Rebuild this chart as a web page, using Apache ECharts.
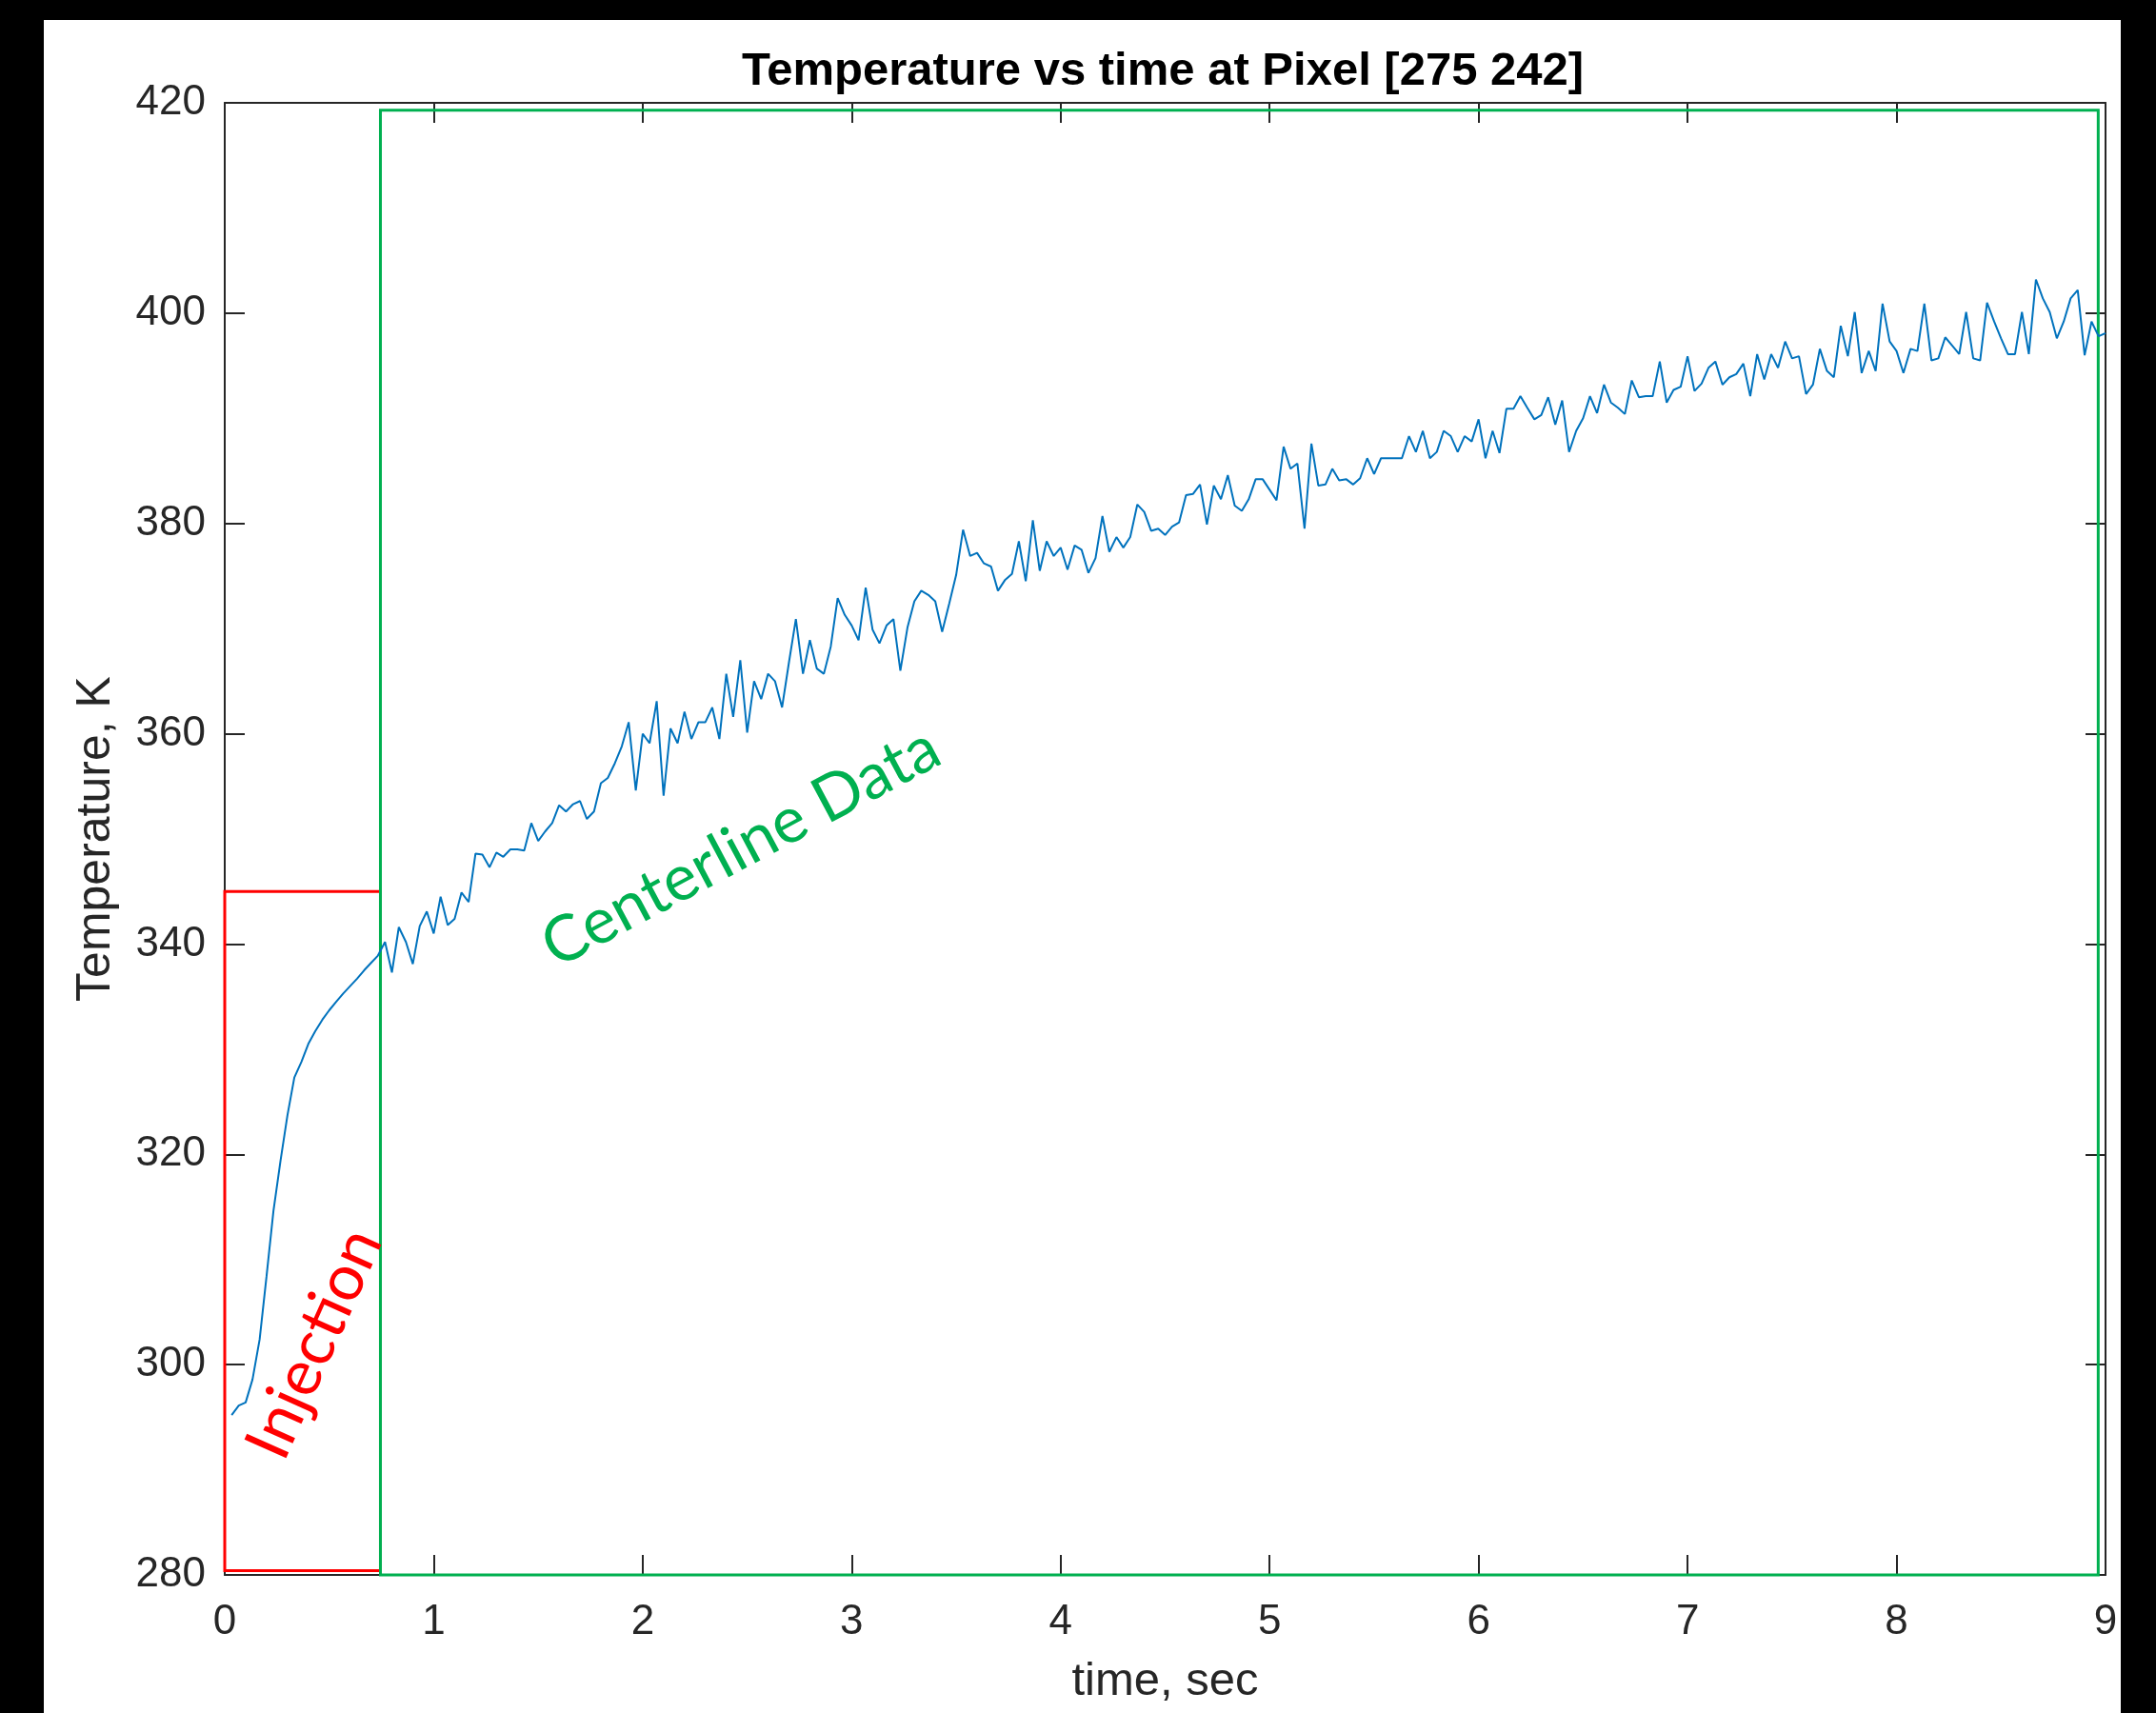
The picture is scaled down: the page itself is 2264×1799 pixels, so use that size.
<!DOCTYPE html>
<html>
<head>
<meta charset="utf-8">
<script src="https://cdn.jsdelivr.net/npm/echarts@6/dist/echarts.min.js"></script>
<style>
  html, body { margin: 0; padding: 0; background: #000; width: 2264px; height: 1799px; overflow: hidden; }
  #chart { position: absolute; left: 46px; top: 21px; width: 2181px; height: 1778px; background: #fff; }
</style>
</head>
<body>
<div id="chart"></div>
<script>
// time (s) and temperature (K)
var timeSec = [
  0.033,0.067,0.1,0.133,0.167,0.2,0.233,0.267,0.3,0.333,
  0.367,0.4,0.433,0.467,0.5,0.533,0.567,0.6,0.633,0.667,
  0.7,0.733,0.767,0.8,0.833,0.867,0.9,0.933,0.967,1,
  1.033,1.067,1.1,1.133,1.167,1.2,1.233,1.267,1.3,1.333,
  1.367,1.4,1.433,1.467,1.5,1.533,1.567,1.6,1.633,1.667,
  1.7,1.733,1.767,1.8,1.833,1.867,1.9,1.933,1.967,2,
  2.033,2.067,2.1,2.133,2.167,2.2,2.233,2.267,2.3,2.333,
  2.367,2.4,2.433,2.467,2.5,2.533,2.567,2.6,2.633,2.667,
  2.7,2.733,2.767,2.8,2.833,2.867,2.9,2.933,2.967,3,
  3.033,3.067,3.1,3.133,3.167,3.2,3.233,3.267,3.3,3.333,
  3.367,3.4,3.433,3.467,3.5,3.533,3.567,3.6,3.633,3.667,
  3.7,3.733,3.767,3.8,3.833,3.867,3.9,3.933,3.967,4,
  4.033,4.067,4.1,4.133,4.167,4.2,4.233,4.267,4.3,4.333,
  4.367,4.4,4.433,4.467,4.5,4.533,4.567,4.6,4.633,4.667,
  4.7,4.733,4.767,4.8,4.833,4.867,4.9,4.933,4.967,5,
  5.033,5.067,5.1,5.133,5.167,5.2,5.233,5.267,5.3,5.333,
  5.367,5.4,5.433,5.467,5.5,5.533,5.567,5.6,5.633,5.667,
  5.7,5.733,5.767,5.8,5.833,5.867,5.9,5.933,5.967,6,
  6.033,6.067,6.1,6.133,6.167,6.2,6.233,6.267,6.3,6.333,
  6.367,6.4,6.433,6.467,6.5,6.533,6.567,6.6,6.633,6.667,
  6.7,6.733,6.767,6.8,6.833,6.867,6.9,6.933,6.967,7,
  7.033,7.067,7.1,7.133,7.167,7.2,7.233,7.267,7.3,7.333,
  7.367,7.4,7.433,7.467,7.5,7.533,7.567,7.6,7.633,7.667,
  7.7,7.733,7.767,7.8,7.833,7.867,7.9,7.933,7.967,8,
  8.033,8.067,8.1,8.133,8.167,8.2,8.233,8.267,8.3,8.333,
  8.367,8.4,8.433,8.467,8.5,8.533,8.567,8.6,8.633,8.667,
  8.7,8.733,8.767,8.8,8.833,8.867,8.9,8.933,8.967,9
];
var tempK = [
  295.2,296.1,296.4,298.6,302.4,308.4,314.6,319.4,323.7,327.3,
  328.8,330.5,331.7,332.8,333.7,334.5,335.3,336.0,336.7,337.5,
  338.2,338.9,340.2,337.3,341.6,340.2,338.1,341.7,343.1,341.0,
  344.5,341.8,342.4,344.9,344.0,348.6,348.5,347.3,348.7,348.3,
  349.0,349.0,348.9,351.5,349.8,350.7,351.5,353.2,352.6,353.3,
  353.6,351.9,352.6,355.3,355.8,357.2,358.8,361.1,354.6,360.0,
  359.1,363.1,354.1,360.5,359.1,362.1,359.5,361.1,361.1,362.5,
  359.5,365.7,361.6,367.0,360.1,365.0,363.3,365.7,365.0,362.5,
  366.8,370.9,365.7,368.9,366.2,365.7,368.3,372.9,371.3,370.3,
  368.9,373.9,369.9,368.6,370.3,370.9,366.0,370.1,372.6,373.6,
  373.2,372.6,369.7,372.4,375.1,379.4,376.9,377.2,376.2,375.9,
  373.6,374.6,375.2,378.3,374.5,380.3,375.5,378.3,376.9,377.7,
  375.6,377.9,377.5,375.3,376.7,380.7,377.3,378.7,377.7,378.7,
  381.8,381.1,379.3,379.5,378.9,379.7,380.1,382.7,382.8,383.7,
  379.9,383.6,382.3,384.6,381.7,381.2,382.3,384.2,384.2,383.2,
  382.2,387.3,385.2,385.7,379.5,387.6,383.6,383.7,385.2,384.1,
  384.2,383.7,384.3,386.2,384.7,386.2,386.2,386.2,386.2,388.3,
  386.8,388.8,386.2,386.8,388.8,388.3,386.8,388.3,387.8,389.9,
  386.2,388.8,386.7,390.9,390.9,392.1,391.0,389.9,390.3,392.0,
  389.4,391.7,386.8,388.8,390.0,392.1,390.5,393.2,391.5,391.0,
  390.4,393.6,392.0,392.1,392.1,395.4,391.5,392.7,393.0,395.9,
  392.6,393.3,394.8,395.4,393.2,393.9,394.2,395.2,392.1,396.1,
  393.7,396.1,394.8,397.3,395.7,395.9,392.3,393.2,396.6,394.5,
  393.9,398.8,395.9,400.1,394.3,396.4,394.5,400.9,397.3,396.4,
  394.3,396.6,396.4,400.9,395.5,395.7,397.7,396.9,396.1,400.1,
  395.7,395.5,401.0,399.2,397.6,396.1,396.1,400.1,396.1,403.2,
  401.4,400.1,397.6,399.2,401.4,402.2,396.0,399.2,397.8,398.1
];

var xTicks = [0, 1, 2, 3, 4, 5, 6, 7, 8, 9];
var yTicks = [280, 300, 320, 340, 360, 380, 400, 420];

// annotation boxes [tStart, tEnd, Tlow, Thigh]
var injectionBox = [0, 0.745, 280.4, 345.0];
var centerlineBox = [0.745, 8.965, 279.7, 419.3];
// annotation labels [t, T, angle]
var injectionText = [0.43, 302.0, 66];
var centerlineText = [2.47, 349.2, 28];

var axisColor = '#262626';
var font = 'Liberation Sans, Arial, Helvetica, sans-serif';

var myChart = echarts.init(document.getElementById('chart'));

function axisX(pos, labels) {
  return {
    type: 'value', position: pos,
    min: xTicks[0], max: xTicks[xTicks.length - 1], interval: 1,
    axisLine: { show: true, onZero: false, lineStyle: { color: axisColor, width: 2 } },
    axisTick: { show: true, inside: true, length: 21, lineStyle: { color: axisColor, width: 2 } },
    axisLabel: { show: labels, fontSize: 44, color: axisColor, fontFamily: font, margin: 28 },
    splitLine: { show: false }
  };
}
function axisY(pos, labels) {
  return {
    type: 'value', position: pos,
    min: yTicks[0], max: yTicks[yTicks.length - 1], interval: 20,
    axisLine: { show: true, onZero: false, lineStyle: { color: axisColor, width: 2 } },
    axisTick: { show: true, inside: true, length: 21, lineStyle: { color: axisColor, width: 2 } },
    axisLabel: { show: labels, fontSize: 44, color: axisColor, fontFamily: font, margin: 20 },
    splitLine: { show: false }
  };
}

var xBottom = axisX('bottom', true);
xBottom.name = 'time, sec';
xBottom.nameLocation = 'middle';
xBottom.nameGap = 88;
xBottom.nameTextStyle = { fontSize: 49, color: axisColor, fontFamily: font };
var yLeft = axisY('left', true);
yLeft.name = 'Temperature, K';
yLeft.nameLocation = 'middle';
yLeft.nameGap = 110;
yLeft.nameRotate = 90;
yLeft.nameTextStyle = { fontSize: 50, color: axisColor, fontFamily: font };

function box(b, color) {
  return [
    { coord: [b[0], b[2]], itemStyle: { color: 'rgba(0,0,0,0)', borderColor: color, borderWidth: 3 } },
    { coord: [b[1], b[3]] }
  ];
}

myChart.setOption({
  animation: false,
  title: {
    text: 'Temperature vs time at Pixel [275 242]',
    left: 1175, top: 30, padding: 0, textAlign: 'center',
    textStyle: { fontSize: 49, fontWeight: 'bold', color: '#000', fontFamily: font }
  },
  grid: { left: 190, right: 16, top: 87, bottom: 145, containLabel: false },
  xAxis: [xBottom, axisX('top', false)],
  yAxis: [yLeft, axisY('right', false)],
  series: [
    {
      type: 'line',
      xAxisIndex: 0, yAxisIndex: 0,
      showSymbol: false,
      lineStyle: { color: '#0072BD', width: 2 },
      itemStyle: { color: '#0072BD' },
      data: timeSec.map(function (t, i) { return [t, tempK[i]]; }),
      markArea: {
        silent: true,
        data: [box(injectionBox, '#FF0000'), box(centerlineBox, '#00B050')]
      }
    }
  ]
});

function label(spec, text, color) {
  var p = myChart.convertToPixel({ gridIndex: 0 }, [spec[0], spec[1]]);
  return {
    type: 'text', x: p[0], y: p[1], rotation: spec[2] * Math.PI / 180, z: 10,
    style: { text: text, fill: color, fontSize: 67, fontFamily: 'Lato, "Open Sans", sans-serif', align: 'center', verticalAlign: 'middle' }
  };
}
myChart.setOption({
  graphic: [
    label(injectionText, 'Injection', '#FF0000'),
    label(centerlineText, 'Centerline Data', '#00B050')
  ]
});
</script>
</body>
</html>
